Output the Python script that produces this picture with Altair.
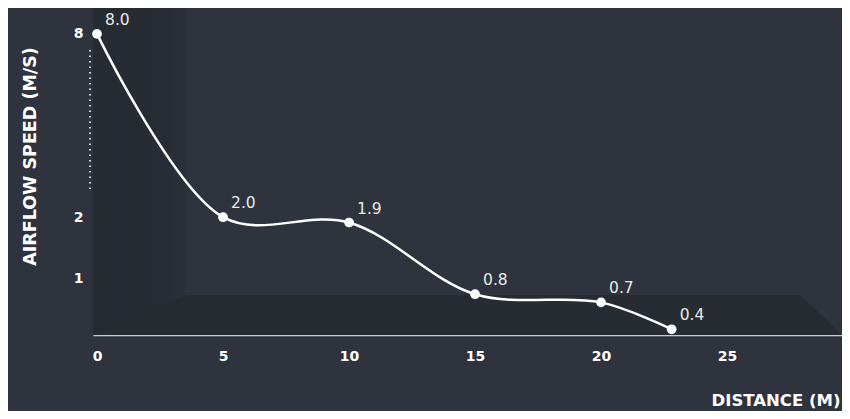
import altair as alt
import pandas as pd

# data
distance = [0, 5, 10, 15, 20, 22.8]
speed = [8.0, 2.0, 1.9, 0.8, 0.7, 0.4]
speed_labels = ["8.0", "2.0", "1.9", "0.8", "0.7", "0.4"]
x_ticks = [0, 5, 10, 15, 20, 25]
y_ticks = [1, 2, 8]

X_DOMAIN = [-0.16, 29.56]
Y_DOMAIN = [0.342, 9.44]

# decorative pseudo-3D wall / floor (in data units)
wall_x = [-0.16, 3.5]
floor_x = [-0.16, 3.5, 27.9, 29.56]
floor_top = [0.342, 0.79, 0.79, 0.342]
range_marker_y = [7.2, 2.5]
range_marker_x = -0.28

BG = "#2e333d"
FONT = "DejaVu Sans"

df = pd.DataFrame({"distance": distance, "speed": speed, "label": speed_labels})

xs = alt.Scale(domain=X_DOMAIN, nice=False, zero=False)
ys = alt.Scale(type="symlog", constant=1.5, domain=Y_DOMAIN, nice=False, zero=False)

x_axis = alt.Axis(values=x_ticks, title="DISTANCE (M)", grid=False, ticks=False,
                  domain=True, domainColor="#c9ccd1", domainWidth=1.5,
                  labelColor="#ffffff", labelFont=FONT, labelFontSize=14,
                  labelFontWeight="bold", labelPadding=14,
                  titleColor="#ffffff", titleFont=FONT, titleFontSize=16.5,
                  titleFontWeight="bold", titleAnchor="end", titleAlign="right",
                  titleX=747, titleY=70, titleBaseline="alphabetic")
y_axis = alt.Axis(values=y_ticks, title="AIRFLOW SPEED (M/S)", grid=False, ticks=False,
                  domain=False, labelColor="#ffffff", labelFont=FONT,
                  labelFontSize=14, labelFontWeight="bold", labelPadding=10,
                  titleColor="#ffffff", titleFont=FONT, titleFontSize=17.5,
                  titleFontWeight="bold", titleAngle=270, titleAlign="center",
                  titleBaseline="middle", titleX=-63, titleY=148)

wall = alt.Chart(pd.DataFrame({"x": [wall_x[0]], "x2": [wall_x[1]], "y": [Y_DOMAIN[0]], "y2": [Y_DOMAIN[1]]})).mark_rect(
    color=alt.Gradient(gradient="linear", x1=0, x2=1, y1=0, y2=0,
                       stops=[alt.GradientStop(color="#262a31", offset=0),
                              alt.GradientStop(color="#282c34", offset=0.8),
                              alt.GradientStop(color="#2c3039", offset=1)])
).encode(
    x=alt.X("x:Q", scale=xs, axis=x_axis), x2="x2:Q",
    y=alt.Y("y:Q", scale=ys, axis=y_axis), y2="y2:Q",
)

floor = alt.Chart(pd.DataFrame({"x": floor_x, "y": floor_top, "y2": [Y_DOMAIN[0]] * 4})).mark_area(
    color="#272b32", interpolate="linear"
).encode(
    x=alt.X("x:Q", scale=xs),
    y=alt.Y("y:Q", scale=ys), y2="y2:Q",
)

marker = alt.Chart(pd.DataFrame({"x": [range_marker_x], "y": [range_marker_y[0]], "y2": [range_marker_y[1]]})).mark_rule(
    color="#ffffff", strokeWidth=1.6, strokeDash=[1.5, 4]
).encode(
    x=alt.X("x:Q", scale=xs),
    y=alt.Y("y:Q", scale=ys), y2="y2:Q",
)

base = alt.Chart(df)

line = base.mark_line(color="#ffffff", strokeWidth=2.5, interpolate="catmull-rom").encode(
    x=alt.X("distance:Q", scale=xs),
    y=alt.Y("speed:Q", scale=ys),
)

points = base.mark_circle(color="#ffffff", opacity=1, size=95).encode(
    x=alt.X("distance:Q", scale=xs), y=alt.Y("speed:Q", scale=ys)
)

labels = base.mark_text(color="#e9eaec", font=FONT, fontSize=15.5, align="left",
                        baseline="alphabetic", dx=8, dy=-9).encode(
    x=alt.X("distance:Q", scale=xs), y=alt.Y("speed:Q", scale=ys), text="label:N"
)

chart = alt.layer(wall, floor, marker, line, points, labels).properties(
    width=749, height=327,
    background=BG,
    autosize=alt.AutoSizeParams(type="none"),
    padding={"left": 85, "top": 0, "right": 0, "bottom": 76},
).configure_view(stroke=None, fill=BG)

chart.save("out.html", embed_options={"renderer": "svg", "actions": False})
